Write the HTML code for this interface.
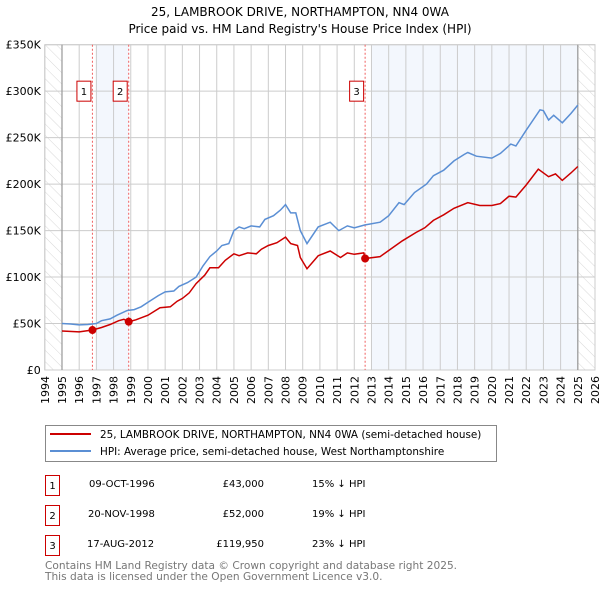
<!DOCTYPE html>
<html><head><meta charset="utf-8"><style>
body{margin:0;background:#fff;}
svg{display:block;font-family:"DejaVu Sans","Liberation Sans",sans-serif;}
</style></head><body>
<svg id="chart" width="600" height="590" viewBox="0 0 600 590" xmlns="http://www.w3.org/2000/svg">
<defs><pattern id="hatch" width="8" height="8" patternUnits="userSpaceOnUse" patternTransform="rotate(-45)"><line x1="0" y1="0" x2="0" y2="8" stroke="#d8d8d8" stroke-width="1"/></pattern></defs>
<text x="300" y="16" text-anchor="middle" font-size="12">25, LAMBROOK DRIVE, NORTHAMPTON, NN4 0WA</text>
<text x="300" y="33" text-anchor="middle" font-size="12">Price paid vs. HM Land Registry's House Price Index (HPI)</text>
<g id="plot"></g>
<g>
<rect x="45.5" y="425.5" width="451" height="36" fill="#fff" stroke="#888"/>
<line x1="50" y1="434" x2="91" y2="434" stroke="#cc0000" stroke-width="2"/>
<text x="100" y="438" font-size="10.4">25, LAMBROOK DRIVE, NORTHAMPTON, NN4 0WA (semi-detached house)</text>
<line x1="50" y1="451" x2="91" y2="451" stroke="#5b8fd4" stroke-width="2"/>
<text x="100" y="455" font-size="10.4">HPI: Average price, semi-detached house, West Northamptonshire</text>
</g>
<g font-size="10">
<g><rect x="45.5" y="475.5" width="14" height="20" fill="#fff" stroke="#cc0000"/><text x="52.5" y="489" text-anchor="middle">1</text><text x="89" y="487">09-OCT-1996</text><text x="264" y="487" text-anchor="end">£43,000</text><text x="312" y="487">15% ↓ HPI</text></g>
<g><rect x="45.5" y="505.5" width="14" height="20" fill="#fff" stroke="#cc0000"/><text x="52.5" y="519" text-anchor="middle">2</text><text x="88" y="517">20-NOV-1998</text><text x="264" y="517" text-anchor="end">£52,000</text><text x="312" y="517">19% ↓ HPI</text></g>
<g><rect x="45.5" y="535.5" width="14" height="20" fill="#fff" stroke="#cc0000"/><text x="52.5" y="549" text-anchor="middle">3</text><text x="87" y="547">17-AUG-2012</text><text x="264" y="547" text-anchor="end">£119,950</text><text x="312" y="547">23% ↓ HPI</text></g>
</g>
<text x="45" y="569" font-size="10.6" fill="#777">Contains HM Land Registry data © Crown copyright and database right 2025.</text>
<text x="45" y="580" font-size="10.6" fill="#777">This data is licensed under the Open Government Licence v3.0.</text>
</svg>
<script>
const yTicks=[0,50,100,150,200,250,300,350];
const yTickLabels=["£0","£50K","£100K","£150K","£200K","£250K","£300K","£350K"];
const xYears=[1994,1995,1996,1997,1998,1999,2000,2001,2002,2003,2004,2005,2006,2007,2008,2009,2010,2011,2012,2013,2014,2015,2016,2017,2018,2019,2020,2021,2022,2023,2024,2025,2026];
const hpiT=[1995.0,1995.5,1996,1996.5,1997,1997.3,1997.8,1998.2,1998.8,1999.2,1999.6,2000,2000.6,2001,2001.5,2001.8,2002.3,2002.8,2003.2,2003.6,2004,2004.3,2004.7,2005,2005.3,2005.6,2006,2006.5,2006.8,2007.3,2007.7,2008,2008.3,2008.6,2008.86,2009.25,2009.9,2010.6,2011.1,2011.6,2012.0,2012.6,2013.5,2014.0,2014.6,2014.9,2015.5,2016.2,2016.6,2017.2,2017.8,2018.4,2018.6,2019.1,2020.0,2020.5,2021.1,2021.4,2022.0,2022.8,2023.0,2023.3,2023.6,2024.1,2024.6,2025.0];
const hpiV=[50,49.5,48.5,49,50,53,55,59,64,65,68,73,80,84,85,90,94,100,112,122,128,134,136,150,154,152,155,154,162,166,172,178,169,169,150,136,154,159,150,155,153,156,159,166,180,178,191,200,209,215,225,232,234,230,228,233,243,241,258,280,279,269,274,266,276,285];
const priceT=[1995.0,1996,1996.77,1997.3,1997.8,1998.3,1998.6,1998.88,1999.3,2000,2000.7,2001.3,2001.7,2002,2002.4,2002.8,2003.3,2003.6,2004.1,2004.5,2005,2005.3,2005.8,2006.3,2006.6,2007,2007.5,2008,2008.3,2008.7,2008.86,2009.25,2009.9,2010.6,2011.2,2011.6,2012.0,2012.55,2012.63,2013.5,2014.0,2014.8,2015.6,2016.1,2016.6,2017.2,2017.8,2018.6,2019.3,2020.0,2020.5,2021.0,2021.4,2022.0,2022.7,2023.3,2023.7,2024.1,2024.6,2025.0];
const priceV=[42,41,43,45.7,49,53,54.6,52,54,59,67,68,74,77,83,93,102,110,110,118,125,123,126,125,130,134,137,143,136,134,121,109,123,128,121,126,124.5,126,119.95,122,128.6,139,148,153,161,167,174,180,177,177,179,187,186,199,216,208,211,204,212,219];
const saleT=[1996.77,1998.88,2012.63];
const saleV=[43,52,119.95];
const saleLabels=["1","2","3"];

const NS="http://www.w3.org/2000/svg";
const L=44.8,R=595,T=44.7,B=370;
const X=t=>L+(t-1994)*(R-L)/32;
const Y=v=>B-v*(B-T)/350;
const plot=document.getElementById('plot');
function mk(tag,attrs,parent){const e=document.createElementNS(NS,tag);for(const k in attrs)e.setAttribute(k,attrs[k]);(parent||plot).appendChild(e);return e;}

let s1=mk('rect',{x:X(1997),y:T,width:X(saleT[1])-X(1997),height:B-T,fill:'#eef3fc',opacity:0.7});


let s2=mk('rect',{x:X(2013),y:T,width:X(2025)-X(2013),height:B-T,fill:'#eef3fc',opacity:0.7});


let h1=mk('rect',{x:L,y:T,width:X(1995)-L,height:B-T,fill:'url(#hatch)'});


let h2=mk('rect',{x:X(2025),y:T,width:R-X(2025),height:B-T,fill:'url(#hatch)'});



xYears.forEach(yr=>{const g=mk('line',{x1:X(yr),x2:X(yr),y1:T,y2:B,stroke:'#ccc','stroke-width':1});


const t=mk('text',{x:0,y:0,'font-size':11,'text-anchor':'end',transform:`translate(${X(yr)+4},${B+6}) rotate(-90)`});t.textContent=yr;

});
yTicks.forEach((v,i)=>{const g=mk('line',{x1:L,x2:R,y1:Y(v),y2:Y(v),stroke:'#ccc','stroke-width':1});


const t=mk('text',{x:L-4,y:Y(v)+4,'font-size':11,'text-anchor':'end'});t.textContent=yTickLabels[i];

});
let fr=mk('rect',{x:L,y:T,width:R-L,height:B-T,fill:'none',stroke:'#ccc'});


[1995,2025].forEach(yr=>{const l=mk('line',{x1:X(yr),x2:X(yr),y1:T,y2:B,stroke:'#999','stroke-width':1.2});

});

saleT.forEach((t,i)=>{const l=mk('line',{x1:X(t),x2:X(t),y1:T,y2:B,stroke:'#f06060','stroke-width':1,'stroke-dasharray':'2,2'});


const r=mk('rect',{x:X(t)-15.5,y:Y(300)-10,width:14,height:20,fill:'#fff',stroke:'#cc0000'});


const tx=mk('text',{x:X(t)-8.5,y:Y(300)+4,'font-size':10,'text-anchor':'middle'});tx.textContent=saleLabels[i];

});

function path(ts,vs){return ts.map((t,i)=>(i?'L':'M')+X(t).toFixed(1)+','+Y(vs[i]).toFixed(1)).join('');}
let hp=mk('path',{d:path(hpiT,hpiV),fill:'none',stroke:'#5b8fd4','stroke-width':1.5});


let pp=mk('path',{d:path(priceT,priceV),fill:'none',stroke:'#cc0000','stroke-width':1.5});


saleT.forEach((t,i)=>{const c=mk('circle',{cx:X(t),cy:Y(saleV[i]),r:4,fill:'#cc0000'});

});
</script>
</body></html>
